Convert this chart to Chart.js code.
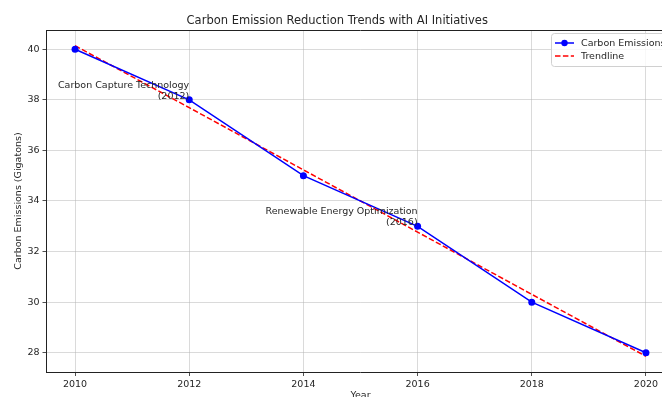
<!DOCTYPE html>
<html>
<head>
<meta charset="utf-8">
<script src="https://cdn.jsdelivr.net/npm/chart.js@4"></script>
<style>
  html, body { margin: 0; padding: 0; background: #fff; overflow: hidden; }
  #wrap { width: 690px; height: 404px; }
</style>
</head>
<body>
<div id="wrap"><canvas id="grafico"></canvas></div>
<script>
const anos = [2010, 2012, 2014, 2016, 2018, 2020];
const emissoes = [40, 38, 35, 33, 30, 28];
const tendencia = [40.14, 37.69, 35.23, 32.77, 30.31, 27.86];
const ticksX = [2010, 2012, 2014, 2016, 2018, 2020];
const ticksY = [28, 30, 32, 34, 36, 38, 40];
const notasTexto = [['Carbon Capture Technology', '(2012)'], ['Renewable Energy Optimization', '(2016)']];
const notasAno = [2012, 2016];
const notasValor = [38, 33];

const fonte = 'DejaVu Sans';
const corTexto = '#262626';

// anotacoes, borda de cima e legenda dentro do grafico
const extras = {
    id: 'extras',
    afterDatasetsDraw(chart) {
        const ctx = chart.ctx;
        const area = chart.chartArea;
        const x = chart.scales.x;
        const y = chart.scales.y;

        ctx.save();
        ctx.strokeStyle = '#222';
        ctx.lineWidth = 1;
        ctx.beginPath();
        ctx.moveTo(area.left, area.top + 0.5);
        ctx.lineTo(area.right, area.top + 0.5);
        ctx.stroke();

        ctx.font = '9.5px "' + fonte + '"';
        ctx.fillStyle = corTexto;
        ctx.textAlign = 'right';
        ctx.textBaseline = 'alphabetic';
        notasTexto.forEach((linhas, i) => {
            const px = x.getPixelForValue(notasAno[i]);
            const py = y.getPixelForValue(notasValor[i]);
            linhas.forEach((txt, j) => {
                ctx.fillText(txt, px, py - 1.2 - (linhas.length - 1 - j) * 10.8);
            });
        });

        // legenda
        const bx = 551, by = 33, bw = 125, bh = 33;
        ctx.beginPath();
        ctx.roundRect(bx + 0.5, by + 0.5, bw, bh, 3);
        ctx.fillStyle = 'rgba(255,255,255,0.8)';
        ctx.fill();
        ctx.strokeStyle = '#d0d0d0';
        ctx.stroke();

        chart.data.datasets.forEach((ds, i) => {
            const ly = by + 10 + i * 13;
            ctx.strokeStyle = ds.borderColor;
            ctx.lineWidth = 1.5;
            ctx.setLineDash(ds.borderDash || []);
            ctx.beginPath();
            ctx.moveTo(bx + 4, ly);
            ctx.lineTo(bx + 23, ly);
            ctx.stroke();
            ctx.setLineDash([]);
            if (ds.pointRadius > 0) {
                ctx.fillStyle = ds.pointBackgroundColor;
                ctx.beginPath();
                ctx.arc(bx + 13.5, ly, 3.2, 0, Math.PI * 2);
                ctx.fill();
            }
            ctx.fillStyle = corTexto;
            ctx.textAlign = 'left';
            ctx.textBaseline = 'middle';
            ctx.fillText(ds.label, bx + 30, ly + 0.5);
        });
        ctx.restore();
    }
};

const grafico = new Chart(document.getElementById('grafico'), {
    type: 'line',
    data: {
        datasets: [{
            label: 'Carbon Emissions',
            data: anos.map((a, i) => ({ x: a, y: emissoes[i] })),
            borderColor: '#0000ff',
            backgroundColor: '#0000ff',
            pointBackgroundColor: '#0000ff',
            pointBorderWidth: 0,
            pointRadius: 3.5,
            borderWidth: 1.5,
            tension: 0
        }, {
            label: 'Trendline',
            data: anos.map((a, i) => ({ x: a, y: tendencia[i] })),
            borderColor: '#ff0000',
            borderDash: [5.5, 2.4],
            pointRadius: 0,
            borderWidth: 1.5,
            tension: 0
        }]
    },
    options: {
        responsive: true,
        maintainAspectRatio: false,
        animation: false,
        layout: { padding: { left: 0, right: 15.5, top: 0, bottom: 0 } },
        plugins: {
            legend: { display: false },
            tooltip: { enabled: false },
            title: {
                display: true,
                text: 'Carbon Emission Reduction Trends with AI Initiatives',
                color: corTexto,
                font: { family: fonte, size: 11.5, weight: 'normal' },
                padding: { top: 14.5, bottom: 1.7 }
            }
        },
        scales: {
            x: {
                type: 'linear',
                min: 2009.5,
                max: 2020.5,
                afterBuildTicks: (s) => { s.ticks = ticksX.map(v => ({ value: v })); },
                afterFit: (s) => { s.height = 32; },
                ticks: {
                    color: corTexto,
                    font: { family: fonte, size: 9.5 },
                    padding: 3,
                    maxRotation: 0,
                    callback: (v) => String(v)
                },
                grid: { color: 'rgba(176,176,176,0.6)', lineWidth: 0.8, tickLength: 4, tickColor: '#222' },
                border: { color: '#222', width: 1 },
                title: {
                    display: true,
                    text: 'Year',
                    color: corTexto,
                    font: { family: fonte, size: 9.5 },
                    padding: { top: 2, bottom: 3 }
                }
            },
            y: {
                min: 27.24,
                max: 40.76,
                afterBuildTicks: (s) => { s.ticks = ticksY.map(v => ({ value: v })); },
                afterFit: (s) => { s.width = 46.5; },
                ticks: {
                    color: corTexto,
                    font: { family: fonte, size: 9.5 },
                    padding: 3
                },
                grid: { color: 'rgba(176,176,176,0.6)', lineWidth: 0.8, tickLength: 4, tickColor: '#222' },
                border: { color: '#222', width: 1 },
                title: {
                    display: true,
                    text: 'Carbon Emissions (Gigatons)',
                    color: corTexto,
                    font: { family: fonte, size: 9.5 },
                    padding: { top: 13, bottom: 0 }
                }
            }
        }
    },
    plugins: [extras]
});
</script>
</body>
</html>
